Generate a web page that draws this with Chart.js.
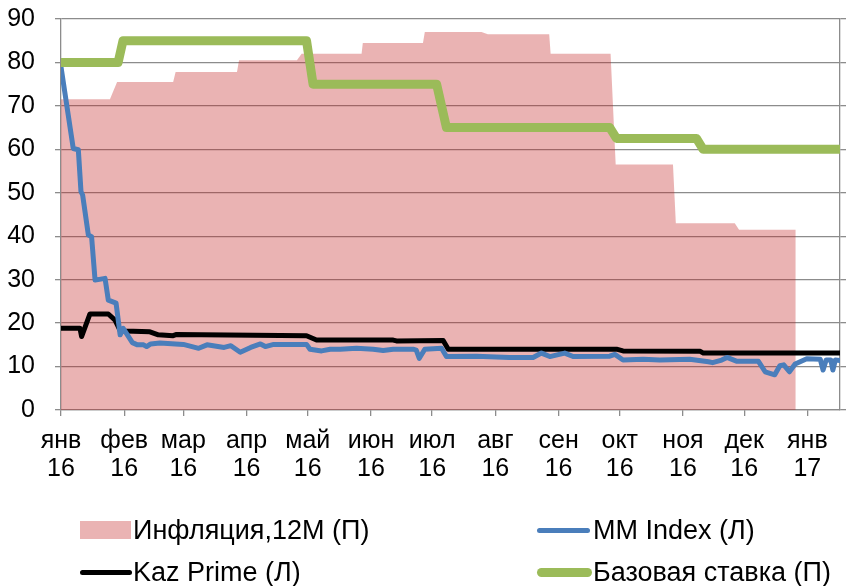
<!DOCTYPE html>
<html>
<head>
<meta charset="utf-8">
<script src="https://cdn.jsdelivr.net/npm/chart.js@4/dist/chart.umd.min.js"></script>
<style>
  html, body { margin: 0; padding: 0; background: #fff; }
  #wrap { position: relative; width: 846px; height: 586px; overflow: hidden; }
  canvas { position: absolute; left: 0; top: 0; }
  .lg { position: absolute; font-family: "Liberation Sans", Arial, sans-serif; font-size: 27px; color: #000; white-space: nowrap; line-height: 30px; }
  .sym { position: absolute; }
</style>
</head>
<body>
<div id="wrap">
  <canvas id="c" width="846" height="586"></canvas>
  <div class="sym" style="left:80px;top:521px;width:51px;height:18px;background:rgba(193,31,31,0.34);"></div>
  <div class="lg" style="left:133px;top:515px;">Инфляция,12М (П)</div>
  <div class="sym" style="left:537px;top:528px;width:53px;height:5px;border-radius:3px;background:#4A7EBB;"></div>
  <div class="lg" style="left:593px;top:515px;">MM Index (Л)</div>
  <div class="sym" style="left:80px;top:570px;width:52px;height:5px;border-radius:3px;background:#000;"></div>
  <div class="lg" style="left:133px;top:557px;">Kaz Prime (Л)</div>
  <div class="sym" style="left:537px;top:568px;width:55px;height:9px;border-radius:5px;background:#9BBB59;"></div>
  <div class="lg" style="left:593px;top:557px;">Базовая ставка (П)</div>
</div>
<script>
// x positions are days since 1 Jan 2016
const monthTicks = [0, 31, 60, 91, 121, 152, 182, 213, 244, 274, 305, 335, 366];
const monthLabels = [["янв","16"],["фев","16"],["мар","16"],["апр","16"],["май","16"],["июн","16"],["июл","16"],["авг","16"],["сен","16"],["окт","16"],["ноя","16"],["дек","16"],["янв","17"]];

// Inflation 12M, % (right axis)
const inflDays   = [0, 24, 27.5, 55, 56.2, 86.3, 87.3, 115.7, 118, 147.4, 148, 177.5, 178.4, 206.2, 209.3, 239.4, 240.1, 269.5, 272, 300.1, 301.5, 330.4, 332.5, 360.3];
const inflValues = [14.3, 14.3, 15.1, 15.1, 15.56, 15.56, 16.1, 16.1, 16.4, 16.4, 16.9, 16.9, 17.4, 17.4, 17.3, 17.3, 16.4, 16.4, 11.3, 11.3, 8.6, 8.6, 8.3, 8.3];

// Base rate, % (right axis)
const rateDays   = [0, 28, 30.4, 120.4, 123.6, 184.2, 189, 269.1, 272.4, 311.6, 314.9, 382];
const rateValues = [16, 16, 17, 17, 15, 15, 13, 13, 12.5, 12.5, 12, 12];

// MM Index (left axis)
const mmDays   = [0, 6, 8.5, 9.8, 10.6, 13.4, 15, 16.7, 21.6, 23.2, 27, 29, 30.5, 35, 37.5, 40.5, 42, 44, 48.5, 60, 67.5, 71.6, 80, 83.3, 87.9, 93, 97.8, 100.2, 104.3, 120.4, 122.1, 127.8, 132, 136.9, 144.9, 153.1, 158, 162.9, 172.7, 174.2, 175.7, 178.4, 186.6, 189, 203.7, 220, 231.5, 235.6, 239.7, 247, 251.1, 269.1, 271.6, 275.6, 285.5, 293.6, 308.3, 317.5, 319.5, 324, 326.6, 331.5, 342, 345.3, 350, 352.5, 354.4, 357.2, 360, 365.7, 372.3, 373.7, 375.2, 377.5, 378.5, 379.7, 382];
const mmValues = [79, 60.2, 59.9, 50.3, 49.5, 40.3, 39.9, 29.9, 30.3, 25.3, 24.6, 17.3, 18.8, 15.5, 15.0, 15.0, 14.6, 15.2, 15.4, 15.1, 14.2, 15.0, 14.4, 14.8, 13.3, 14.4, 15.2, 14.6, 15.1, 15.1, 14.0, 13.6, 14.0, 14.0, 14.2, 14.0, 13.7, 14.0, 14.0, 13.8, 11.9, 14.0, 14.2, 12.3, 12.4, 12.1, 12.1, 13.1, 12.3, 13.1, 12.3, 12.4, 12.8, 11.5, 11.7, 11.5, 11.7, 11.1, 10.9, 11.5, 12.1, 11.2, 11.2, 8.8, 8.1, 10.2, 10.4, 8.8, 10.6, 11.8, 11.7, 9.2, 11.5, 11.5, 9.2, 11.5, 11.4];

// Kaz Prime (left axis)
const kpDays   = [0, 9.3, 10.1, 14.2, 23.2, 26.5, 28.9, 31.4, 43.6, 47.7, 55, 56.7, 68.8, 120.4, 125.3, 162.9, 164.5, 187.4, 189.9, 272.4, 275.6, 313.5, 315, 382];
const kpValues = [18.8, 18.8, 16.9, 22.1, 22.1, 20.7, 18.4, 18.2, 18.0, 17.3, 17.1, 17.4, 17.3, 17.1, 16.1, 16.1, 15.9, 16.0, 14.0, 14.0, 13.6, 13.5, 13.1, 13.1];

const pts = (xs, ys) => xs.map((x, i) => ({ x: x, y: ys[i] }));
const GRID = '#8c8c8c';
Chart.defaults.font.family = '"Liberation Sans", Arial, sans-serif';
Chart.defaults.color = '#000';

const zeroPad = s => { s.paddingTop = 0; s.paddingBottom = 0; s.paddingLeft = 0; s.paddingRight = 0; };

new Chart(document.getElementById('c'), {
  type: 'line',
  data: {
    datasets: [
      { label: 'Базовая ставка (П)', data: pts(rateDays, rateValues), yAxisID: 'y2', borderColor: '#9BBB59', borderWidth: 9, pointRadius: 0, tension: 0, borderJoinStyle: 'round', borderCapStyle: 'round', fill: false, order: 0 },
      { label: 'MM Index (Л)', data: pts(mmDays, mmValues), yAxisID: 'y', borderColor: '#4A7EBB', borderWidth: 5, pointRadius: 0, tension: 0, borderJoinStyle: 'round', borderCapStyle: 'round', fill: false, order: 1 },
      { label: 'Kaz Prime (Л)', data: pts(kpDays, kpValues), yAxisID: 'y', borderColor: '#000000', borderWidth: 5, pointRadius: 0, tension: 0, borderJoinStyle: 'round', borderCapStyle: 'round', fill: false, order: 2 },
      { label: 'Инфляция,12М (П)', data: pts(inflDays, inflValues), yAxisID: 'y2', borderWidth: 0, borderColor: 'rgba(0,0,0,0)', backgroundColor: 'rgba(193,31,31,0.34)', pointRadius: 0, tension: 0, fill: 'origin', order: 3 }
    ]
  },
  options: {
    responsive: false,
    animation: false,
    layout: { padding: { top: 19, left: 0, right: 0, bottom: 0 } },
    plugins: { legend: { display: false }, tooltip: { enabled: false } },
    scales: {
      x: {
        type: 'linear', min: 0, max: 382,
        afterBuildTicks: s => { s.ticks = monthTicks.map(v => ({ value: v })); },
        afterFit: s => { s.height = 586 - 410; zeroPad(s); },
        ticks: { autoSkip: false, maxRotation: 0, minRotation: 0, padding: 11,
          font: { size: 25, lineHeight: 1.12 },
          callback: (v, i) => monthLabels[i] },
        grid: { drawOnChartArea: false, drawTicks: true, tickLength: 6, color: GRID, lineWidth: 1.3 },
        border: { display: true, color: GRID, width: 1.3 }
      },
      y: {
        position: 'left', min: 0, max: 90,
        afterFit: s => { s.width = 61; zeroPad(s); },
        ticks: { stepSize: 10, padding: 20, font: { size: 25 } },
        grid: { color: GRID, lineWidth: 1.3, tickLength: 6 },
        border: { display: true, color: GRID, width: 1.3 }
      },
      y2: {
        position: 'right', min: 0, max: 18,
        afterFit: s => { s.width = 6; zeroPad(s); },
        ticks: { stepSize: 2, display: false },
        grid: { drawOnChartArea: false, color: GRID, lineWidth: 1.3, tickLength: 6 },
        border: { display: true, color: GRID, width: 1.3 }
      }
    }
  }
});
</script>
</body>
</html>
